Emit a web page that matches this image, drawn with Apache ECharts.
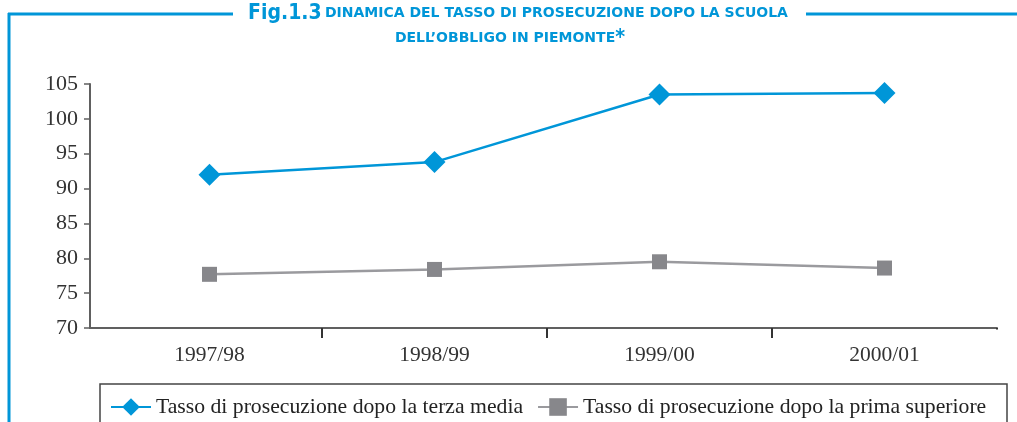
<!DOCTYPE html>
<html>
<head>
<meta charset="utf-8">
<script src="https://cdn.jsdelivr.net/npm/echarts@6/dist/echarts.min.js"></script>
<style>
    html, body { margin: 0; padding: 0; background: #fff; }
    #chart { width: 1017px; height: 422px; }
</style>
</head>
<body>
<div id="chart"></div>
<script>
// Data
const years = ['1997/98', '1998/99', '1999/00', '2000/01'];
const terzaMedia = [92.0, 93.8, 103.5, 103.7];
const primaSuperiore = [77.7, 78.4, 79.5, 78.6];
const seriesNames = [
    'Tasso di prosecuzione dopo la terza media',
    'Tasso di prosecuzione dopo la prima superiore'
];

const BLUE = '#0096d8';
const GREY = '#87878b';
const AXIS = '#606060';
const SERIF = '"Liberation Serif", "DejaVu Serif", serif';
const COND = '"DejaVu Sans Condensed", "DejaVu Sans", sans-serif';
const SANS = '"DejaVu Sans", sans-serif';

const TITLE_RICH = {
    big: { fontFamily: COND, fontWeight: 'bold', fontSize: 21, fill: BLUE },
    small: { fontFamily: SANS, fontWeight: 'bold', fontSize: 14, fill: BLUE }
};

const chart = echarts.init(document.getElementById('chart'));

chart.setOption({
    animation: false,
    textStyle: { fontFamily: SERIF },
    // category bands start a few px right of the value axis, as in the print
    grid: { left: 97, right: 20, top: 84, bottom: 94 },
    xAxis: {
        type: 'category',
        data: years,
        boundaryGap: true,
        axisLine: { lineStyle: { color: AXIS, width: 2 } },
        axisTick: {
            show: true,
            length: 10,
            interval: (idx) => idx !== 0,
            lineStyle: { color: '#333', width: 2 }
        },
        axisLabel: { color: '#333', fontSize: 21.5, fontFamily: SERIF, margin: 16 }
    },
    yAxis: {
        type: 'value',
        min: 70,
        max: 105,
        interval: 5,
        offset: 7,
        axisLine: { show: true, lineStyle: { color: AXIS, width: 2 } },
        axisTick: { show: true, length: 6, lineStyle: { color: AXIS, width: 1.5 } },
        axisLabel: { color: '#333', fontSize: 22, fontFamily: SERIF, margin: 12 },
        splitLine: { show: false }
    },
    legend: {
        left: 105,
        top: 391,
        itemWidth: 40,
        itemHeight: 22,
        itemGap: 14,
        textStyle: { color: '#222', fontSize: 21.7, fontFamily: SERIF },
        data: seriesNames
    },
    series: [
        {
            name: seriesNames[0],
            type: 'line',
            data: terzaMedia,
            symbol: 'diamond',
            symbolSize: 22,
            lineStyle: { color: BLUE, width: 2.5 },
            itemStyle: { color: BLUE }
        },
        {
            name: seriesNames[1],
            type: 'line',
            data: primaSuperiore,
            symbol: 'rect',
            symbolSize: 15,
            lineStyle: { color: '#9a9a9e', width: 2.5 },
            itemStyle: { color: GREY }
        }
    ],
    graphic: [
        // frame lines
        { type: 'line', shape: { x1: 8, y1: 14, x2: 233, y2: 14 }, style: { stroke: BLUE, lineWidth: 3 } },
        { type: 'line', shape: { x1: 806, y1: 14, x2: 1017, y2: 14 }, style: { stroke: BLUE, lineWidth: 3 } },
        { type: 'line', shape: { x1: 9, y1: 13, x2: 9, y2: 422 }, style: { stroke: BLUE, lineWidth: 3 } },
        // x axis line continues to the value axis
        { type: 'line', shape: { x1: 89, y1: 328, x2: 98, y2: 328 }, style: { stroke: AXIS, lineWidth: 2 } },
        // no tick at the right end of the x axis in the print
        { type: 'rect', z: 100, shape: { x: 995, y: 329.5, width: 6, height: 12 }, style: { fill: '#fff' } },
        // title, two centred lines
        {
            type: 'text',
            x: 518,
            y: 24,
            style: {
                text: '{big|Fig.1.3} {small|DINAMICA DEL TASSO DI PROSECUZIONE DOPO LA SCUOLA}',
                align: 'center',
                verticalAlign: 'bottom',
                rich: TITLE_RICH
            }
        },
        {
            type: 'text',
            x: 510,
            y: 49,
            style: {
                text: '{small|DELL\u2019OBBLIGO IN PIEMONTE}{big|*}',
                align: 'center',
                verticalAlign: 'bottom',
                rich: TITLE_RICH
            }
        },
        // legend box
        {
            type: 'rect',
            shape: { x: 100, y: 384, width: 907, height: 50 },
            style: { fill: 'none', stroke: '#444', lineWidth: 1.5 }
        }
    ]
});
</script>
</body>
</html>
